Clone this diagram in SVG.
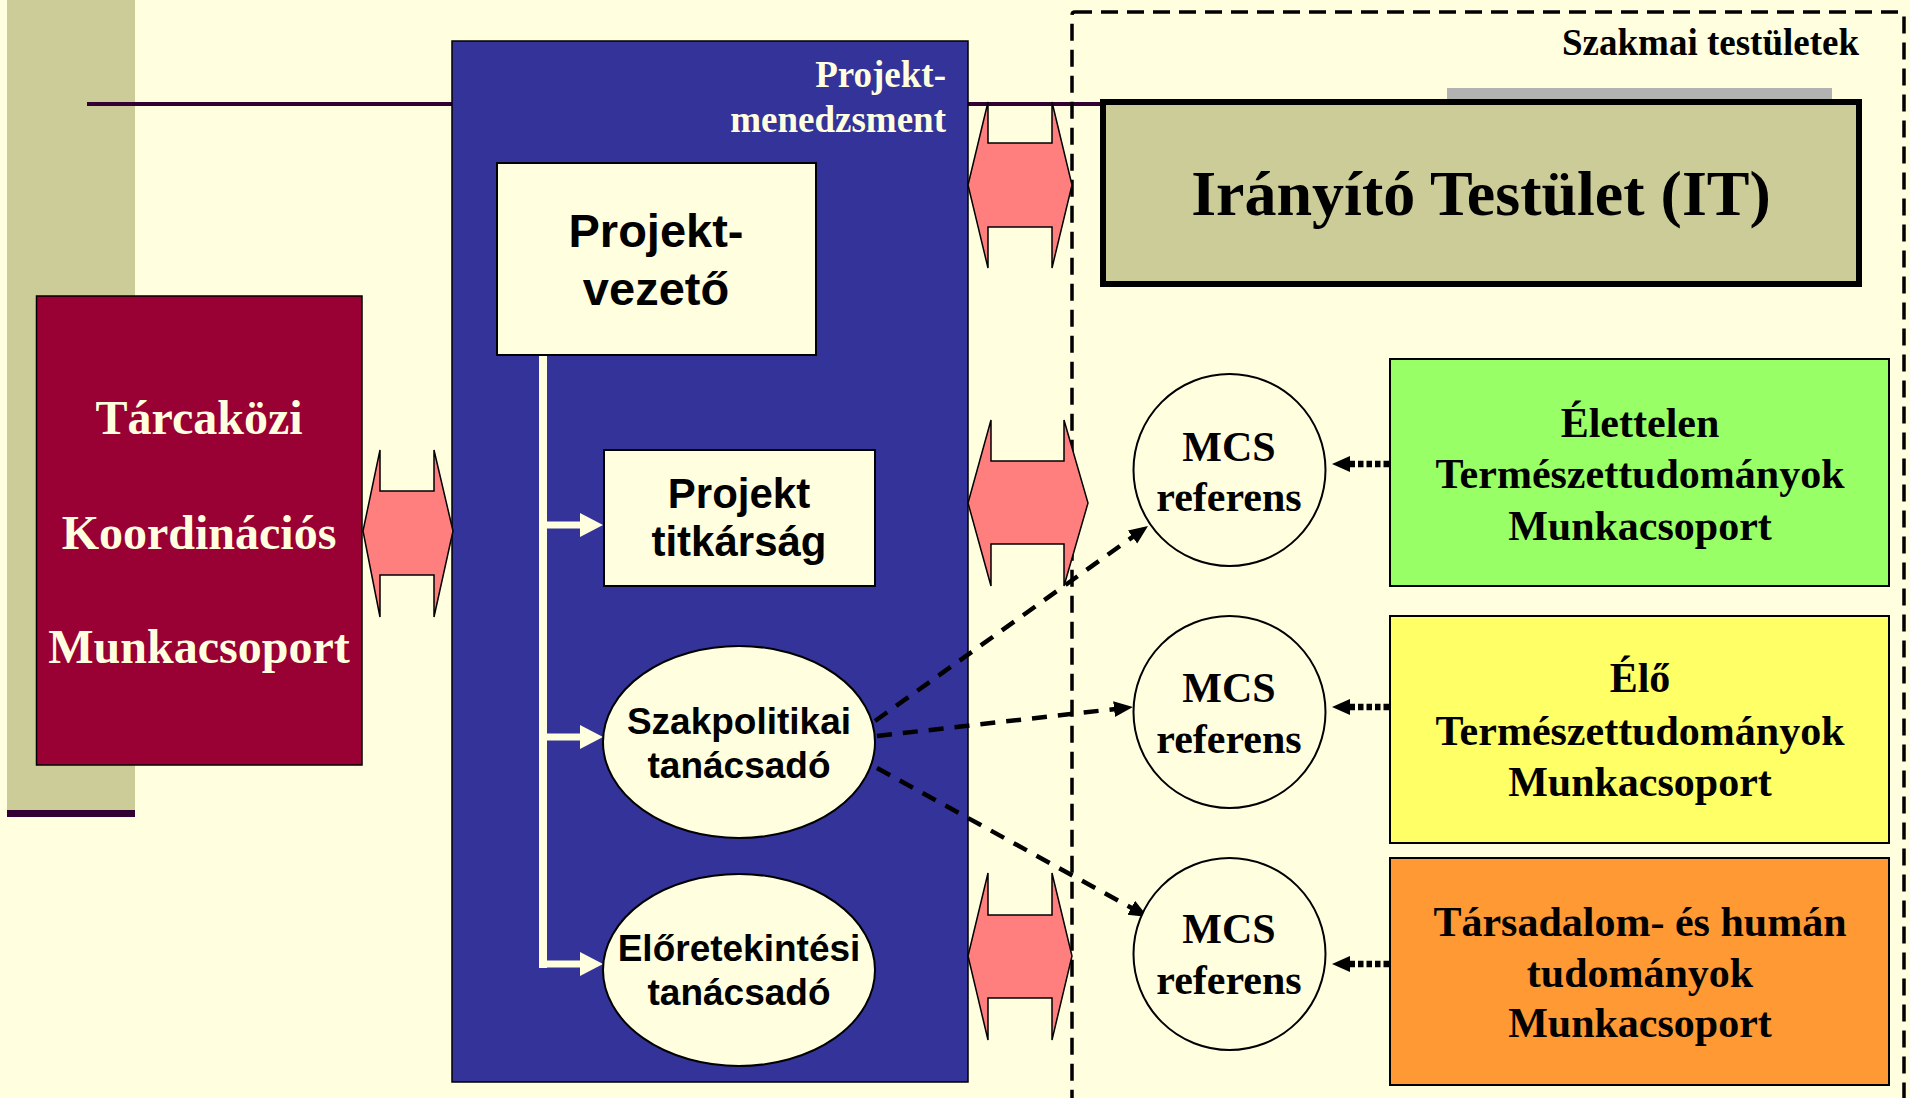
<svg xmlns="http://www.w3.org/2000/svg" width="1910" height="1098" viewBox="0 0 1910 1098">
<defs>
<style>
.serif{font-family:"Liberation Serif","Times New Roman",serif;font-weight:bold}
.sans{font-family:"Liberation Sans",Arial,sans-serif;font-weight:bold}
.dbl{fill:#FF7F7F;stroke:#000;stroke-width:1.5;stroke-linejoin:miter}
.cream{fill:#FFFFE0;stroke:#000;stroke-width:2}
.dash{fill:none;stroke:#000;stroke-width:4.5;stroke-dasharray:15 11}
.dot{fill:none;stroke:#000;stroke-width:6.5;stroke-dasharray:5.5 3}
.wline{fill:none;stroke:#FFFFE0}
</style>
<marker id="ah" markerUnits="userSpaceOnUse" markerWidth="22" markerHeight="18" refX="10" refY="8" orient="auto">
<path d="M0,0 L19,8 L0,16 z" fill="#000"/>
</marker>
<marker id="ahd" markerUnits="userSpaceOnUse" markerWidth="20" markerHeight="18" refX="2" refY="8" orient="auto">
<path d="M0,0 L18,8 L0,16 z" fill="#000"/>
</marker>
<marker id="wah" markerUnits="userSpaceOnUse" markerWidth="26" markerHeight="26" refX="0" refY="12" orient="auto">
<path d="M0,0 L23,12 L0,24 z" fill="#FFFFE0"/>
</marker>
</defs>
<rect x="0" y="0" width="1910" height="1098" fill="#FFFFE0"/>
<g id="background-bar">
<rect x="7" y="0" width="128" height="811" fill="#CCCC99"/>
<rect x="7" y="810" width="128" height="7" fill="#330033"/>
<line x1="87" y1="104" x2="1103" y2="104" stroke="#330033" stroke-width="4"/>
</g>
<g id="szakmai-testuletek">
<rect x="1072" y="12" width="832" height="1110" rx="3" fill="none" stroke="#000" stroke-width="3.5" stroke-dasharray="17 9"/>
<text class="serif" x="1859" y="55" font-size="37" text-anchor="end" fill="#000">Szakmai testületek</text>
</g>
<g id="projektmenedzsment">
<rect x="452" y="41" width="516" height="1041" fill="#333399" stroke="#000" stroke-width="1.5"/>
<text class="serif" x="946" y="87" font-size="37" text-anchor="end" fill="#FFFFE0">Projekt-</text>
<text class="serif" x="946" y="132" font-size="37" text-anchor="end" fill="#FFFFE0">menedzsment</text>
</g>
<g id="tarcakozi">
<rect x="36.5" y="296" width="325.5" height="469" fill="#990033" stroke="#000" stroke-width="1.5"/>
<text class="serif" x="199" y="434" font-size="48" text-anchor="middle" fill="#FFFFE0">Tárcaközi</text>
<text class="serif" x="199" y="549" font-size="48" text-anchor="middle" fill="#FFFFE0">Koordinációs</text>
<text class="serif" x="199" y="663" font-size="48" text-anchor="middle" fill="#FFFFE0">Munkacsoport</text>
</g>
<g id="connectors">
<line class="wline" x1="543" y1="355" x2="543" y2="968" stroke-width="8"/>
<line class="wline" x1="543" y1="525" x2="580" y2="525" stroke-width="7" marker-end="url(#wah)"/>
<line class="wline" x1="543" y1="737" x2="580" y2="737" stroke-width="7" marker-end="url(#wah)"/>
<line class="wline" x1="543" y1="964" x2="580" y2="964" stroke-width="7" marker-end="url(#wah)"/>
<path class="dbl" d="M363,531 L380,450 L380,491 L434,491 L434,450 L453,531 L434,617 L434,575 L380,575 L380,617 Z"/>
<path class="dbl" d="M968,185 L988,102 L988,143 L1052,143 L1052,102 L1072,185 L1052,268 L1052,227 L988,227 L988,268 Z"/>
<path class="dbl" d="M968,503 L991,420 L991,461 L1064,461 L1064,420 L1088,503 L1064,586 L1064,544 L991,544 L991,586 Z"/>
<path class="dbl" d="M968,956 L988,873 L988,915 L1052,915 L1052,873 L1072,956 L1052,1040 L1052,998 L988,998 L988,1040 Z"/>
<line class="dash" x1="875" y1="721" x2="1140.7" y2="531.2" marker-end="url(#ah)"/>
<line class="dash" x1="877" y1="736" x2="1124" y2="708" marker-end="url(#ah)"/>
<line class="dash" x1="877" y1="768" x2="1140" y2="912.6" marker-end="url(#ah)"/>
<line class="dot" x1="1389" y1="464" x2="1348" y2="464" marker-end="url(#ahd)"/>
<line class="dot" x1="1389" y1="707" x2="1348" y2="707" marker-end="url(#ahd)"/>
<line class="dot" x1="1389" y1="964" x2="1348" y2="964" marker-end="url(#ahd)"/>
</g>
<g id="projektvezeto">
<rect class="cream" x="497" y="163" width="319" height="192"/>
<text class="sans" x="656" y="247" font-size="47" text-anchor="middle" fill="#000">Projekt-</text>
<text class="sans" x="656" y="305" font-size="47" text-anchor="middle" fill="#000">vezető</text>
</g>
<g id="projekt-titkarsag">
<rect class="cream" x="604" y="450" width="271" height="136"/>
<text class="sans" x="739" y="508" font-size="42" text-anchor="middle" fill="#000">Projekt</text>
<text class="sans" x="739" y="556" font-size="42" text-anchor="middle" fill="#000">titkárság</text>
</g>
<g id="szakpolitikai">
<ellipse class="cream" cx="739" cy="742" rx="136" ry="96"/>
<text class="sans" x="739" y="734" font-size="37" text-anchor="middle" fill="#000">Szakpolitikai</text>
<text class="sans" x="739" y="778" font-size="37" text-anchor="middle" fill="#000">tanácsadó</text>
</g>
<g id="eloretekintesi">
<ellipse class="cream" cx="739" cy="970" rx="136" ry="96"/>
<text class="sans" x="739" y="961" font-size="37" text-anchor="middle" fill="#000">Előretekintési</text>
<text class="sans" x="739" y="1005" font-size="37" text-anchor="middle" fill="#000">tanácsadó</text>
</g>
<g id="iranyito-testulet">
<rect x="1447" y="88" width="385" height="12" fill="#B2B2B2"/>
<rect x="1103" y="102" width="756" height="182" fill="#CCCC99" stroke="#000" stroke-width="6"/>
<text class="serif" x="1481" y="215" font-size="64" text-anchor="middle" fill="#000">Irányító Testület (IT)</text>
</g>
<g id="mcs1">
<ellipse class="cream" cx="1229.5" cy="470" rx="96" ry="96"/>
<text class="serif" x="1229" y="461" font-size="42" text-anchor="middle" fill="#000">MCS</text>
<text class="serif" x="1229" y="511" font-size="42" text-anchor="middle" fill="#000">referens</text>
</g>
<g id="mcs2">
<ellipse class="cream" cx="1229.5" cy="712" rx="96" ry="96"/>
<text class="serif" x="1229" y="702" font-size="42" text-anchor="middle" fill="#000">MCS</text>
<text class="serif" x="1229" y="753" font-size="42" text-anchor="middle" fill="#000">referens</text>
</g>
<g id="mcs3">
<ellipse class="cream" cx="1229.5" cy="954" rx="96" ry="96"/>
<text class="serif" x="1229" y="943" font-size="42" text-anchor="middle" fill="#000">MCS</text>
<text class="serif" x="1229" y="994" font-size="42" text-anchor="middle" fill="#000">referens</text>
</g>
<g id="elettelen">
<rect x="1390" y="359" width="499" height="227" fill="#99FF66" stroke="#000" stroke-width="2"/>
<text class="serif" x="1640" y="437" font-size="42" text-anchor="middle" fill="#000">Élettelen</text>
<text class="serif" x="1640" y="488" font-size="42" text-anchor="middle" fill="#000">Természettudományok</text>
<text class="serif" x="1640" y="540" font-size="42" text-anchor="middle" fill="#000">Munkacsoport</text>
</g>
<g id="elo">
<rect x="1390" y="616" width="499" height="227" fill="#FFFF66" stroke="#000" stroke-width="2"/>
<text class="serif" x="1640" y="692" font-size="42" text-anchor="middle" fill="#000">Élő</text>
<text class="serif" x="1640" y="745" font-size="42" text-anchor="middle" fill="#000">Természettudományok</text>
<text class="serif" x="1640" y="796" font-size="42" text-anchor="middle" fill="#000">Munkacsoport</text>
</g>
<g id="tarsadalom">
<rect x="1390" y="858" width="499" height="227" fill="#FF9933" stroke="#000" stroke-width="2"/>
<text class="serif" x="1640" y="936" font-size="42" text-anchor="middle" fill="#000">Társadalom- és humán</text>
<text class="serif" x="1640" y="987" font-size="42" text-anchor="middle" fill="#000">tudományok</text>
<text class="serif" x="1640" y="1037" font-size="42" text-anchor="middle" fill="#000">Munkacsoport</text>
</g>
</svg>
